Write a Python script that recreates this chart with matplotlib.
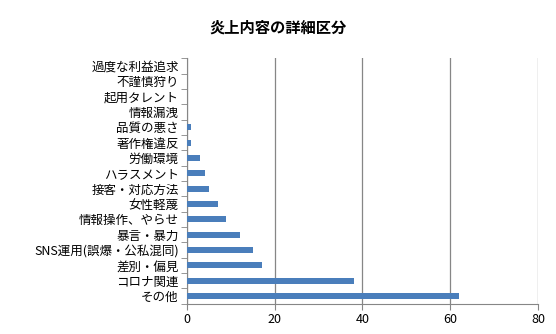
import numpy as np
import matplotlib.pyplot as plt

plt.rcParams['font.family'] = ['Noto Sans CJK JP', 'DejaVu Sans']

categories = ['その他', 'コロナ関連', '差別・偏見', 'SNS運用(誤爆・公私混同)', '暴言・暴力',
              '情報操作、やらせ', '女性軽蔑', '接客・対応方法', 'ハラスメント', '労働環境',
              '著作権違反', '品質の悪さ', '情報漏洩', '起用タレント', '不謹慎狩り', '過度な利益追求']
values = [62, 38, 17, 15, 12, 9, 7, 5, 4, 3, 1, 1, 0, 0, 0, 0]
xticks = [0, 20, 40, 60, 80]

fig = plt.figure(figsize=(5.56, 3.34), dpi=100)
ax = fig.add_axes([0.3363, 0.0907, 0.6313, 0.7347])

y = np.arange(len(categories))
ax.barh(y, values, height=0.38, color='#4a7ebb', zorder=3)

ax.set_xlim(0, 80)
ax.set_ylim(-0.5, len(categories) - 0.5)
ax.set_xticks(xticks)
ax.set_yticks(y)
ax.set_yticklabels(categories, fontsize=9)
ax.set_yticks(np.arange(-0.5, len(categories), 1), minor=True)
ax.tick_params(axis='y', which='major', length=0, pad=6)
ax.tick_params(axis='y', which='minor', length=4, color='#868686', direction='out')
ax.tick_params(axis='x', length=4, color='#868686', labelsize=9, pad=3)

ax.grid(axis='x', color='#868686', linewidth=0.9, zorder=0)
for s in ['top', 'right']:
    ax.spines[s].set_visible(False)
for s in ['left', 'bottom']:
    ax.spines[s].set_color('#868686')

fig.suptitle('炎上内容の詳細区分', fontsize=11, fontweight='bold', x=0.5, y=0.94)

fig.savefig('out.png', dpi=100)
